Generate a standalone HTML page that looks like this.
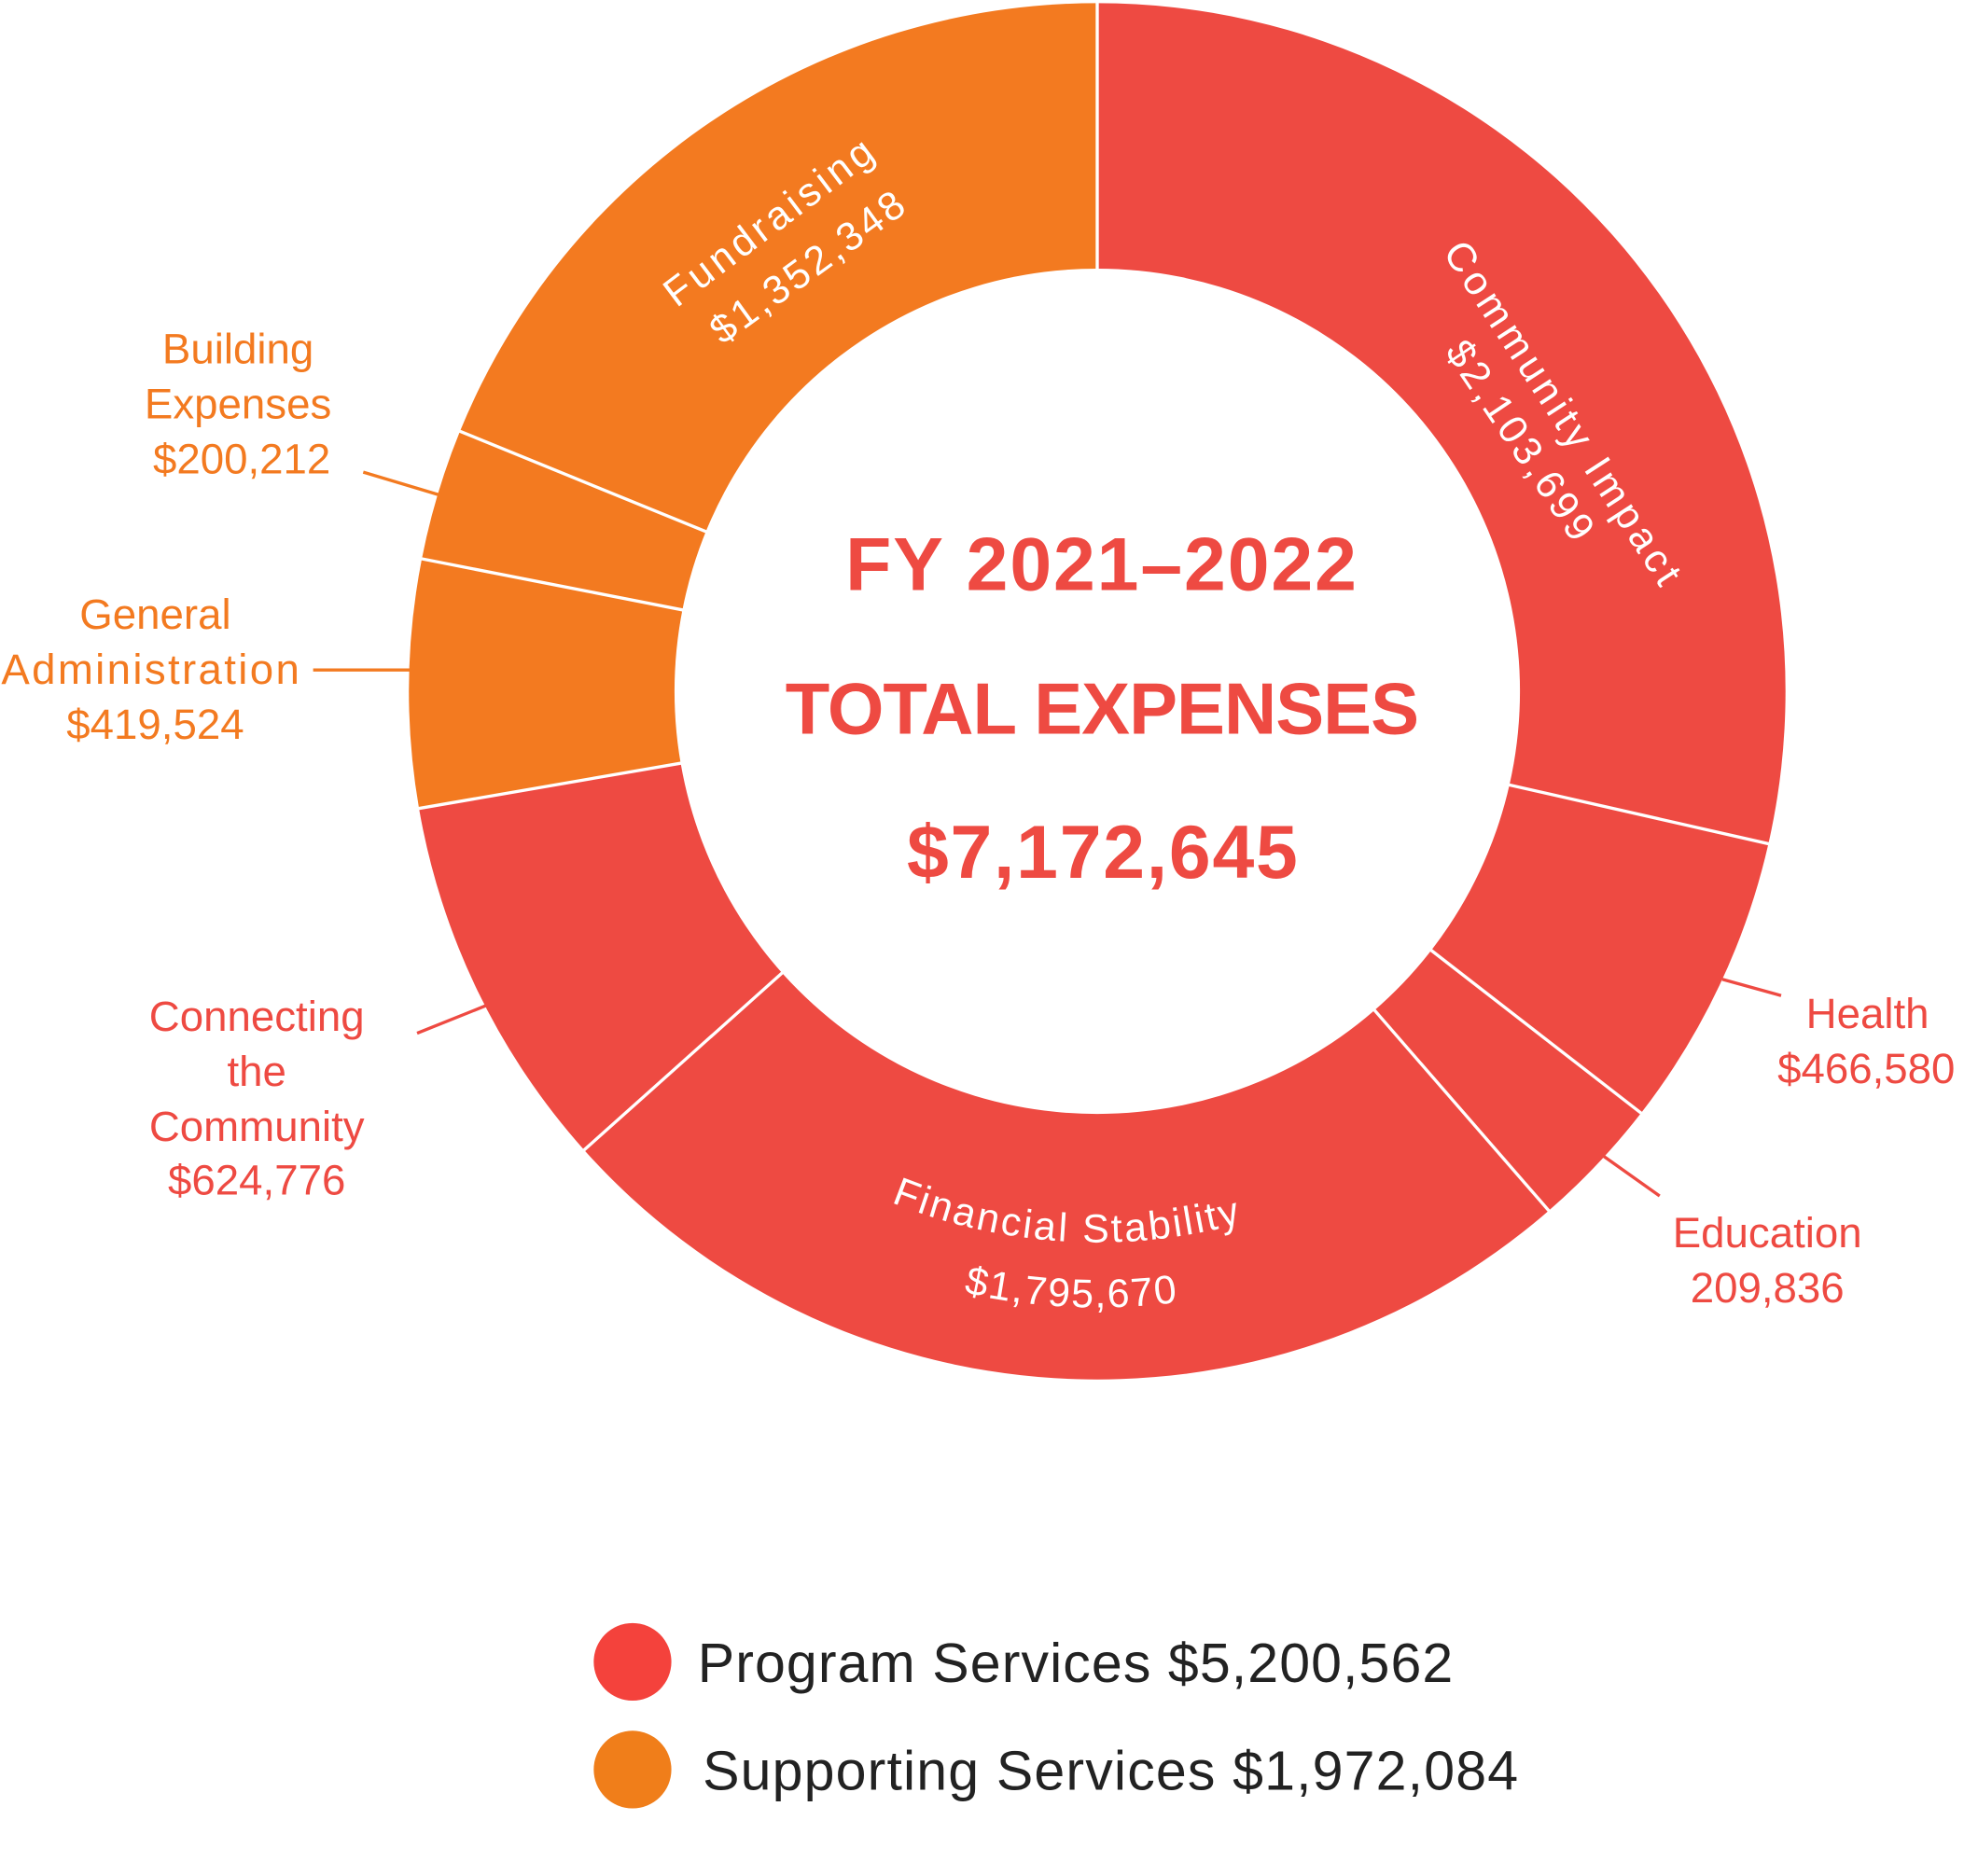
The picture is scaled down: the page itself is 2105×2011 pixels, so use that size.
<!DOCTYPE html>
<html><head><meta charset="utf-8"><style>
html,body{margin:0;padding:0;background:#fff;}
svg{display:block;}
text{font-family:"Liberation Sans",sans-serif;}
</style></head><body>
<svg id="s" width="2105" height="2011" viewBox="0 0 1568 1498" xmlns="http://www.w3.org/2000/svg">
<g id="wedges"></g>
<circle cx="876" cy="552" r="337.5" fill="#fff"/>
<g id="seps" stroke="#fff" stroke-width="2.5"></g>
<defs>
<path id="fsArc" d="M 436 552 A 440 440 0 0 0 1316 552"/>
<path id="fvArc" d="M 384 552 A 492 492 0 0 0 1368 552"/>
</defs>
<g fill="#fff" font-size="32">
<text text-anchor="middle"><textPath href="#fsArc" startOffset="48.1%" textLength="285">Financial Stability</textPath></text>
<text text-anchor="middle"><textPath href="#fvArc" startOffset="48.6%" textLength="172">$1,795,670</textPath></text>
<text text-anchor="middle" transform="translate(614,178) rotate(-37)" dy="10" textLength="200">Fundraising</text>
<text text-anchor="middle" transform="translate(645,214) rotate(-36)" dy="10" textLength="183">$1,352,348</text>
<text text-anchor="middle" transform="translate(1247,330) rotate(57)" dy="10" textLength="320">Community Impact</text>
<text text-anchor="middle" transform="translate(1213,352) rotate(56)" dy="10" textLength="185">$2,103,699</text>
</g>
<g fill="#EE4A42" font-weight="bold" text-anchor="middle">
<text x="879" y="471" font-size="60" textLength="408">FY 2021–2022</text>
<text x="880" y="586" font-size="58" textLength="506">TOTAL EXPENSES</text>
<text x="880" y="701" font-size="60" textLength="312">$7,172,645</text>
</g>
<g stroke-width="2.5" fill="none">
<line x1="1375" y1="782" x2="1422" y2="795" stroke="#EE4A42"/>
<line x1="1280" y1="923" x2="1325" y2="955" stroke="#EE4A42"/>
<line x1="388" y1="803" x2="333" y2="825" stroke="#EE4A42"/>
<line x1="250" y1="535" x2="328" y2="535" stroke="#F37A20"/>
<line x1="290" y1="377" x2="350" y2="395" stroke="#F37A20"/>
</g>
<g font-size="34" text-anchor="middle">
<g fill="#F37A20">
<text x="190" y="290">Building</text><text x="190" y="334">Expenses</text><text x="193" y="378">$200,212</text>
<text x="124" y="502">General</text><text x="120" y="546" textLength="238">Administration</text><text x="124" y="590">$419,524</text>
</g>
<g fill="#EE4A42">
<text x="205" y="823">Connecting</text><text x="205" y="867">the</text><text x="205" y="911">Community</text><text x="205" y="954">$624,776</text>
<text x="1491" y="821">Health</text><text x="1490" y="865">$466,580</text>
<text x="1411" y="996">Education</text><text x="1411" y="1040">209,836</text>
</g>
</g>
<circle cx="505" cy="1327" r="31" fill="#F4423C"/>
<circle cx="505" cy="1413" r="31" fill="#F07E1A"/>
<g font-size="44" fill="#222">
<text x="557" y="1343" textLength="603">Program Services $5,200,562</text>
<text x="561" y="1429" textLength="651">Supporting Services $1,972,084</text>
</g>
</svg>
<script>
var cx=876,cy=552,R=549.5;
var b=[0,102.8,127.8,139,228.2,260.2,281.1,292.2,360];
var cols=["#EE4A42","#EE4A42","#EE4A42","#EE4A42","#EE4A42","#F37A20","#F37A20","#F37A20"];
function pt(a,r){var t=(a-90)*Math.PI/180;return [cx+r*Math.cos(t),cy+r*Math.sin(t)];}
var w=document.getElementById("wedges"),s=document.getElementById("seps"),ns="http://www.w3.org/2000/svg";
for(var i=0;i<8;i++){
 var p1=pt(b[i],R),p2=pt(b[i+1],R),lg=(b[i+1]-b[i])>180?1:0;
 var p=document.createElementNS(ns,"path");
 p.setAttribute("d","M"+cx+" "+cy+" L"+p1[0]+" "+p1[1]+" A"+R+" "+R+" 0 "+lg+" 1 "+p2[0]+" "+p2[1]+" Z");
 p.setAttribute("fill",cols[i]);w.appendChild(p);
 var q1=pt(b[i],336),q2=pt(b[i],R+2);
 var l=document.createElementNS(ns,"line");
 l.setAttribute("x1",q1[0]);l.setAttribute("y1",q1[1]);l.setAttribute("x2",q2[0]);l.setAttribute("y2",q2[1]);
 s.appendChild(l);
}
</script>
</body></html>
